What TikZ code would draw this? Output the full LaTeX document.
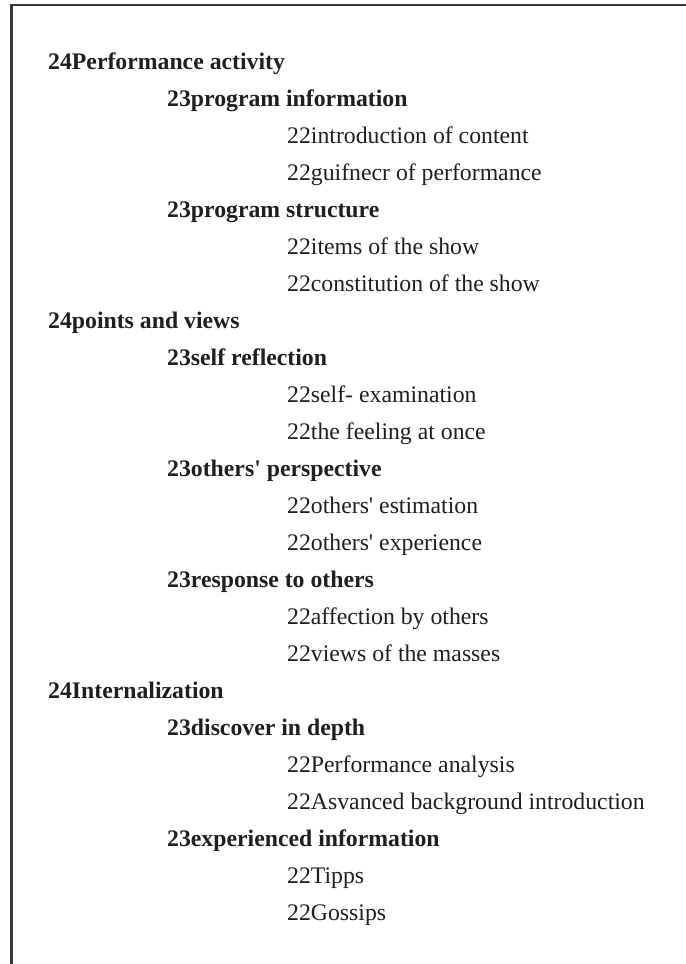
\documentclass[tikz,border=0pt]{standalone}
\usepackage{fontspec}
\setmainfont{Liberation Serif}
\begin{document}
\begin{tikzpicture}[x=1bp,y=-1bp,
  entry/.style={anchor=base west, inner sep=0pt, text=black!88,
    font=\fontsize{23.75bp}{28bp}\selectfont},
  lvlA/.style={entry, font=\fontsize{23.75bp}{28bp}\selectfont\bfseries},
  lvlB/.style={entry, font=\fontsize{23.75bp}{28bp}\selectfont\bfseries},
  lvlC/.style={entry},
  frameline/.style={draw=black!78, line width=2.2bp}]
\useasboundingbox (0,0) rectangle (686,964);
% open frame: top and left edges only
\coordinate (fTR) at (686,5);
\coordinate (fTL) at (11.5,5);
\coordinate (fBL) at (11.5,964);
\draw[frameline] (fTR) -- (fTL) -- (fBL);
% outline entries, one per line
\def\ax{48}\def\bx{167}\def\cx{287}
\def\dy{37.04}
\node[lvlA] (r1)  at (\ax, 69+0*\dy)  {24Performance activity};
\node[lvlB] (r2)  at (\bx, 69+1*\dy)  {23program information};
\node[lvlC] (r3)  at (\cx, 69+2*\dy)  {22introduction of content};
\node[lvlC] (r4)  at (\cx, 69+3*\dy)  {22guifnecr of performance};
\node[lvlB] (r5)  at (\bx, 69+4*\dy)  {23program structure};
\node[lvlC] (r6)  at (\cx, 69+5*\dy)  {22items of the show};
\node[lvlC] (r7)  at (\cx, 69+6*\dy)  {22constitution of the show};
\node[lvlA] (r8)  at (\ax, 69+7*\dy)  {24points and views};
\node[lvlB] (r9)  at (\bx, 69+8*\dy)  {23self reflection};
\node[lvlC] (r10) at (\cx, 69+9*\dy)  {22self- examination};
\node[lvlC] (r11) at (\cx, 69+10*\dy) {22the feeling at once};
\node[lvlB] (r12) at (\bx, 69+11*\dy) {23others\textquotesingle{} perspective};
\node[lvlC] (r13) at (\cx, 69+12*\dy) {22others\textquotesingle{} estimation};
\node[lvlC] (r14) at (\cx, 69+13*\dy) {22others\textquotesingle{} experience};
\node[lvlB] (r15) at (\bx, 69+14*\dy) {23response to others};
\node[lvlC] (r16) at (\cx, 69+15*\dy) {22affection by others};
\node[lvlC] (r17) at (\cx, 69+16*\dy) {22views of the masses};
\node[lvlA] (r18) at (\ax, 69+17*\dy) {24Internalization};
\node[lvlB] (r19) at (\bx, 69+18*\dy) {23discover in depth};
\node[lvlC] (r20) at (\cx, 69+19*\dy) {22Performance analysis};
\node[lvlC] (r21) at (\cx, 69+20*\dy) {22Asvanced background introduction};
\node[lvlB] (r22) at (\bx, 69+21*\dy) {23experienced information};
\node[lvlC] (r23) at (\cx, 69+22*\dy) {22Tipps};
\node[lvlC] (r24) at (\cx, 69+23*\dy) {22Gossips};
\end{tikzpicture}
\end{document}
